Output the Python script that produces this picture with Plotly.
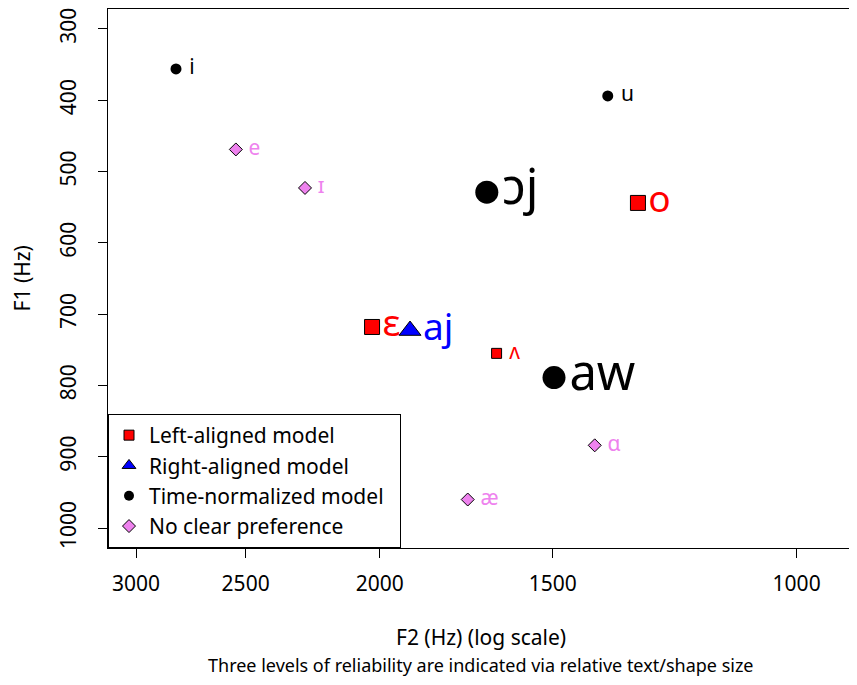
import plotly.graph_objects as go
import numpy as np

vowels = ["i", "u", "e", "ɪ", "ɔj", "o", "ɛ", "aj", "ʌ", "aw", "ɑ", "æ"]
f2_hz = [2807, 1369, 2541, 2265, 1674, 1302, 2026, 1902, 1647, 1497, 1399, 1728]
f1_hz = [356, 394, 469, 523, 529, 544, 718, 723, 755, 789, 884, 960]
model = ["time", "time", "none", "none", "time", "left", "left", "right", "left", "time", "none", "none"]
reliability = [1, 1, 1, 1, 3, 2, 2, 2, 1, 3, 1, 1]

x_ticks = [3000, 2500, 2000, 1500, 1000]
y_ticks = [300, 400, 500, 600, 700, 800, 900, 1000]

styles = {
    "left": dict(symbol="square", fill="red", text="red", line=1, label="Left-aligned model"),
    "right": dict(symbol="triangle-up", fill="blue", text="blue", line=1, label="Right-aligned model"),
    "time": dict(symbol="circle", fill="black", text="black", line=0, label="Time-normalized model"),
    "none": dict(symbol="diamond", fill="violet", text="violet", line=1, label="No clear preference"),
}
marker_size = {
    "left": {1: 10, 2: 15, 3: 20},
    "right": {1: 12, 2: 19, 3: 24},
    "time": {1: 11, 2: 16, 3: 23},
    "none": {1: 10, 2: 15, 3: 20},
}
text_size = {1: 21, 2: 37, 3: 49}
legend_size = {"left": 10, "right": 12, "time": 10, "none": 10}

FONT = "Noto Sans"
fig = go.Figure()

for key in ["left", "right", "time", "none"]:
    st = styles[key]
    idx = [i for i, m in enumerate(model) if m == key]
    fig.add_trace(go.Scatter(
        x=[f2_hz[i] for i in idx],
        y=[f1_hz[i] for i in idx],
        text=[(" " + vowels[i]) if reliability[i] == 1 else vowels[i] for i in idx],
        mode="markers+text",
        textposition="middle right",
        textfont=dict(family=FONT, color=st["text"], size=[text_size[reliability[i]] for i in idx]),
        marker=dict(symbol=st["symbol"], color=st["fill"], opacity=1,
                    size=[marker_size[key][reliability[i]] for i in idx],
                    line=dict(color="black", width=st["line"])),
        showlegend=False, cliponaxis=False,
    ))

for key in ["left", "right", "time", "none"]:
    st = styles[key]
    fig.add_trace(go.Scatter(
        x=[None], y=[None], mode="markers", name=st["label"] + "\u00a0\u00a0",
        marker=dict(symbol=st["symbol"], color=st["fill"], size=legend_size[key], opacity=1,
                    line=dict(color="black", width=st["line"])),
    ))

fig.update_layout(
    width=847, height=669,
    margin=dict(l=100, r=1, t=1, b=129),
    plot_bgcolor="white", paper_bgcolor="white",
    font=dict(family=FONT, size=21, color="black"),
    showlegend=True,
    legend=dict(x=0, y=0, xanchor="left", yanchor="bottom",
                bgcolor="white", bordercolor="black", borderwidth=1,
                font=dict(family=FONT, size=21), itemsizing="trace",
                tracegroupgap=0),
    xaxis=dict(type="log", range=[np.log10(3143), np.log10(909)],
               tickvals=x_ticks, ticktext=[str(v) for v in x_ticks],
               ticks="outside", ticklen=9, tickcolor="black",
               ticklabelstandoff=8, ticklabeloverflow="allow",
               showline=True, mirror=True, linecolor="black", linewidth=1,
               showgrid=False, zeroline=False),
    yaxis=dict(range=[1028, 272],
               tickvals=y_ticks, ticktext=[str(v) for v in y_ticks],
               ticks="outside", ticklen=9, tickcolor="black", tickangle=-90,
               ticklabelstandoff=14, ticklabeloverflow="allow",
               showline=True, mirror=True, linecolor="black", linewidth=1,
               showgrid=False, zeroline=False),
    annotations=[
        dict(text="F2 (Hz) (log scale)", xref="paper", yref="paper", x=0.5, y=-0.165,
             xanchor="center", yanchor="middle", showarrow=False, font=dict(size=21)),
        dict(text="Three levels of reliability are indicated via relative text/shape size",
             xref="paper", yref="paper", x=0.5, y=-0.2171, xanchor="center", yanchor="middle",
             showarrow=False, font=dict(size=18)),
        dict(text="F1 (Hz)", xref="paper", yref="paper", x=-0.1153, y=0.5, textangle=-90,
             xanchor="center", yanchor="middle", showarrow=False, font=dict(size=21)),
    ],
)

fig.write_html("out.html")
